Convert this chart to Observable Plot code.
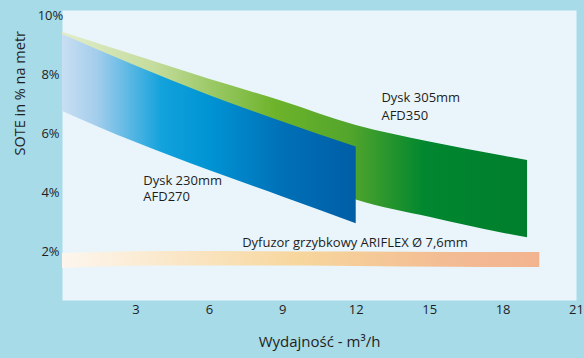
<!DOCTYPE html>
<html>
<head>
<meta charset="utf-8">
<script src="https://cdn.jsdelivr.net/npm/d3@7"></script>
<script src="https://cdn.jsdelivr.net/npm/@observablehq/plot@0.6"></script>
<style>
  html, body { margin: 0; padding: 0; background: #a8dbe8; }
  #chart { width: 584px; height: 358px; }
</style>
</head>
<body>
<div id="chart"></div>
<script>
// ---- data ----
const greenX      = [0, 3, 6, 9, 12, 15, 18, 19];
const greenTop    = [9.45, 8.65, 7.85, 7.1, 6.28, 5.72, 5.24, 5.09];
const greenBottom = [8.0, 7.0, 5.9, 4.8, 3.75, 3.16, 2.62, 2.46];

const blueX      = [0, 3, 6, 9, 12];
const blueTop    = [9.37, 8.3, 7.3, 6.4, 5.55];
const blueBottom = [6.76, 5.7, 4.75, 3.85, 2.94];

const orangeX      = [0, 2, 4, 8, 12, 16, 19.5];
const orangeTop    = [1.93, 1.97, 2.0, 1.99, 1.98, 1.96, 1.96];
const orangeBottom = [1.42, 1.48, 1.5, 1.5, 1.49, 1.46, 1.45];

const xTicks = [3, 6, 9, 12, 15, 18, 21];
const yTicks = [2, 4, 6, 8, 10];
const yTickLabels = ["2%", "4%", "6%", "8%", "10%"];

const labelText = ["Dysk 305mm", "AFD350", "Dysk 230mm", "AFD270", "Dyfuzor grzybkowy ARIFLEX Ø 7,6mm"];
const labelX = [13.03, 13.03, 3.3, 3.3, 7.34];
const labelY = [7.23, 6.62, 4.41, 3.84, 2.29];

const xTitle = "Wydajność - m³/h";
const yTitle = "SOTE in % na metr";

// ---- build tables ----
const band = (xs, top, bottom) => xs.map((x, i) => ({x, y1: bottom[i], y2: top[i]}));
const green = band(greenX, greenTop, greenBottom);
const blue = band(blueX, blueTop, blueBottom);
const orange = band(orangeX, orangeTop, orangeBottom);
const labels = labelText.map((t, i) => ({t, x: labelX[i], y: labelY[i]}));
const yTickData = yTicks.map((v, i) => ({v, t: yTickLabels[i]}));

const textColor = "#1e1e1e";

const svg = Plot.plot({
  width: 584,
  height: 358,
  marginLeft: 62,
  marginRight: 8,
  marginTop: 10,
  marginBottom: 58,
  style: {background: "transparent", fontFamily: "'Open Sans', sans-serif", fontSize: "13px", color: textColor},
  x: {domain: [0, 21], axis: null},
  y: {domain: [0.33, 10.19], axis: null},
  marks: [
    Plot.frame({fill: "#e9f5fa", stroke: "none"}),
    Plot.areaY(orange, {x: "x", y1: "y1", y2: "y2", fill: "url(#gOrange)", curve: "monotone-x"}),
    Plot.areaY(green, {x: "x", y1: "y1", y2: "y2", fill: "url(#gGreen)", curve: "monotone-x"}),
    Plot.areaY(blue, {x: "x", y1: "y1", y2: "y2", fill: "url(#gBlue)", curve: "monotone-x"}),
    Plot.text(labels, {x: "x", y: "y", text: "t", textAnchor: "start", fill: textColor, fontSize: 13}),
    Plot.text(yTickData, {y: "v", text: "t", frameAnchor: "left", dx: -12, textAnchor: "middle", fill: textColor, fontSize: 13}),
    Plot.text(xTicks, {x: d => d, text: d => String(d), frameAnchor: "bottom", dy: 13, fill: textColor, fontSize: 13}),
    Plot.text([xTitle], {frameAnchor: "bottom", dy: 46, fill: textColor, fontSize: 15}),
    Plot.text([yTitle], {frameAnchor: "left", dx: -42, rotate: -90, fill: textColor, fontSize: 14.5})
  ]
});

// gradients
const gradients = {
  gBlue: [[0, "#c9dff2"], [0.12, "#a3cdec"], [0.34, "#12a2dc"], [0.5, "#0094d4"], [0.75, "#0070b7"], [1, "#005ea6"]],
  gGreen: [[0, "#e2edcb"], [0.2, "#c4dc9c"], [0.46, "#6db32a"], [0.62, "#52a52c"], [0.78, "#00872f"], [1, "#007e2c"]],
  gOrange: [[0, "#fdf6ee"], [0.25, "#fae6c6"], [0.5, "#f7d69c"], [0.8, "#f3bc93"], [1, "#f2b48f"]]
};
const defs = d3.select(svg).insert("defs", ":first-child");
for (const [id, stops] of Object.entries(gradients)) {
  const g = defs.append("linearGradient").attr("id", id).attr("x1", "0").attr("x2", "1").attr("y1", "0").attr("y2", "0");
  for (const [o, c] of stops) g.append("stop").attr("offset", o).attr("stop-color", c);
}

document.getElementById("chart").appendChild(svg);
</script>
</body>
</html>
